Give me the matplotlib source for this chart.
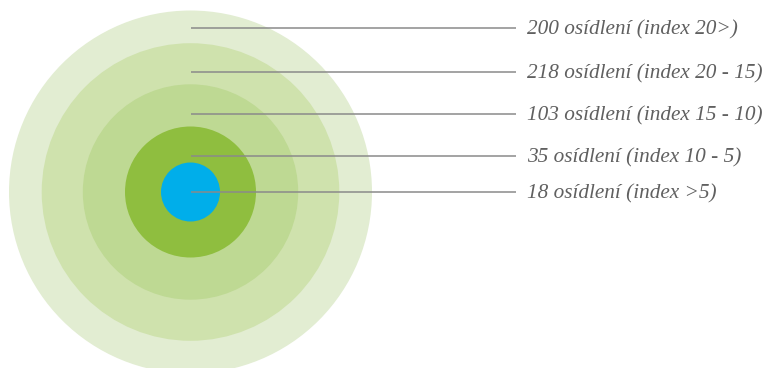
import matplotlib.pyplot as plt
from matplotlib.patches import Circle

# rings from the outside in
labels = ["200 osídlení (index 20>)",
          "218 osídlení (index 20 - 15)",
          "103 osídlení (index 15 - 10)",
          "35 osídlení (index 10 - 5)",
          "18 osídlení (index >5)"]
radii = [181.5, 148.8, 107.7, 65.5, 29.5]
colors = ["#e2edd2", "#cfe2ad", "#bed993", "#8fbe3f", "#00aeea"]
label_y = [28, 71.5, 114, 155.5, 191.5]

cx, cy = 190.5, 192

fig = plt.figure(figsize=(7.7, 3.68), dpi=100)
ax = fig.add_axes([0, 0, 1, 1])
ax.set_xlim(0, 770)
ax.set_ylim(368, 0)
ax.set_aspect("equal")
ax.axis("off")

for r, c in zip(radii, colors):
    ax.add_patch(Circle((cx, cy), r, facecolor=c, edgecolor="none"))

for y, lab in zip(label_y, labels):
    ax.plot([cx, 515.5], [y, y], color="#8a8a8a", lw=1.1, solid_capstyle="butt")
    # baseline sits a little below the leader line
    ax.text(527, y + 6.5, lab, fontsize=15.3, family="Liberation Serif", style="italic",
            color="#606060", va="baseline", ha="left")

fig.savefig("out.png", dpi=100)
